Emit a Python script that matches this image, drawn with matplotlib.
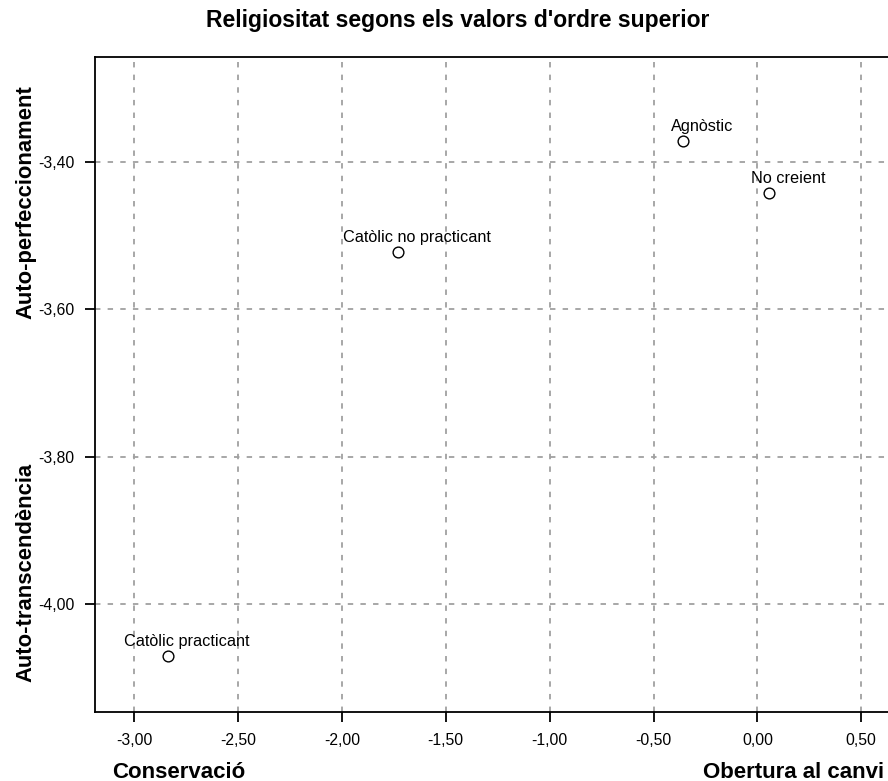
import matplotlib
matplotlib.use("Agg")
import matplotlib.pyplot as plt
from matplotlib.ticker import FixedLocator, FuncFormatter

plt.rcParams['font.family'] = ['Liberation Sans', 'DejaVu Sans']

labels = ["Agnòstic", "No creient", "Catòlic no practicant", "Catòlic practicant"]
x_vals = [-0.359, 0.055, -1.730, -2.836]
y_vals = [-3.372, -3.442, -3.522, -4.071]

xticks = [-3.0, -2.5, -2.0, -1.5, -1.0, -0.5, 0.0, 0.5]
yticks = [-3.4, -3.6, -3.8, -4.0]

fig = plt.figure(figsize=(8.88, 7.81), dpi=100)
ax = fig.add_axes([95/888, 69/781, (907-95)/888, (712-57)/781])

ax.scatter(x_vals, y_vals, s=60, facecolors='white', edgecolors='black', linewidths=1.0, zorder=3)
for lab, x, y in zip(labels, x_vals, y_vals):
    ax.annotate(lab, (x, y), xytext=(19, 10), textcoords='offset pixels',
                ha='center', va='baseline', fontsize=11.7, zorder=4)

ax.set_xlim(-3.188, 0.72)
ax.set_ylim(-4.1466, -3.2575)
ax.xaxis.set_major_locator(FixedLocator(xticks))
ax.yaxis.set_major_locator(FixedLocator(yticks))
fmt = FuncFormatter(lambda v, p: f"{v:.2f}".replace('.', ','))
ax.xaxis.set_major_formatter(fmt)
ax.yaxis.set_major_formatter(fmt)
ax.tick_params(direction='out', length=7, width=1.3, labelsize=11.3, pad=8)
ax.grid(True, color='#a0a0a0', linestyle=(0, (3, 4)), linewidth=1.3)
ax.set_axisbelow(True)
for s in ax.spines.values():
    s.set_linewidth(1.3)

fig.text(458/888, 1 - 21/781, "Religiositat segons els valors d'ordre superior",
         ha='center', va='center', fontsize=16.5, fontweight='bold')
fig.text(112/888, 1 - 777.5/781, "Conservació", ha='left', va='baseline', fontsize=16, fontweight='bold')
fig.text(884/888, 1 - 777.5/781, "Obertura al canvi", ha='right', va='baseline', fontsize=16, fontweight='bold')
fig.text(26/888, 1 - 202/781, "Auto-perfeccionament", ha='center', va='center', rotation=90,
         fontsize=15.8, fontweight='bold')
fig.text(26/888, 1 - 572/781, "Auto-transcendència", ha='center', va='center', rotation=90,
         fontsize=15.8, fontweight='bold')

fig.savefig("out.png", dpi=100)
